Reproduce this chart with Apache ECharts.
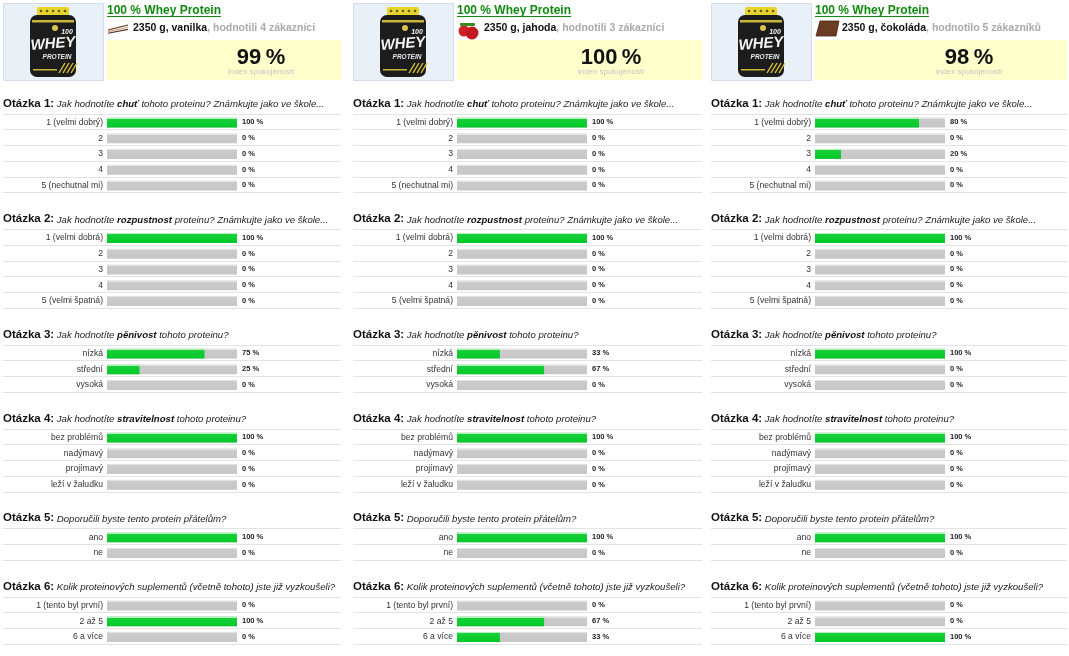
<!DOCTYPE html>
<html><head><meta charset="utf-8">
<script src="https://cdn.jsdelivr.net/npm/echarts@6/dist/echarts.min.js"></script>
<style>html,body{margin:0;padding:0;background:#fff}#c{width:1069px;height:656px}</style>
</head><body><div id="c"></div>
<script>
// ---------------- data ----------------
const productName = '100 % Whey Protein';
const packSize = '2350 g';
const flavors = ['vanilka', 'jahoda', 'čokoláda'];
const ratedBy = ['hodnotili 4 zákazníci', 'hodnotili 3 zákazníci', 'hodnotilo 5 zákazníků'];
const satisfaction = [99, 100, 98];
const satisfactionLabel = 'index spokojenosti';

const questionNumbers = ['Otázka 1:', 'Otázka 2:', 'Otázka 3:', 'Otázka 4:', 'Otázka 5:', 'Otázka 6:'];
const questionPre = ['Jak hodnotíte ', 'Jak hodnotíte ', 'Jak hodnotíte ', 'Jak hodnotíte ',
  'Doporučili byste tento protein přátelům?', 'Kolik proteinových suplementů (včetně tohoto) jste již vyzkoušeli?'];
const questionBold = ['chuť', 'rozpustnost', 'pěnivost', 'stravitelnost', '', ''];
const questionPost = [' tohoto proteinu? Známkujte jako ve škole...', ' proteinu? Známkujte jako ve škole...',
  ' tohoto proteinu?', ' tohoto proteinu?', '', ''];

const answersQ1 = ['1 (velmi dobrý)', '2', '3', '4', '5 (nechutnal mi)'];
const answersQ2 = ['1 (velmi dobrá)', '2', '3', '4', '5 (velmi špatná)'];
const answersQ3 = ['nízká', 'střední', 'vysoká'];
const answersQ4 = ['bez problémů', 'nadýmavý', 'projímavý', 'leží v žaludku'];
const answersQ5 = ['ano', 'ne'];
const answersQ6 = ['1 (tento byl první)', '2 až 5', '6 a více'];
const answers = [answersQ1, answersQ2, answersQ3, answersQ4, answersQ5, answersQ6];

const valuesVanilka  = [[100, 0, 0, 0, 0], [100, 0, 0, 0, 0], [75, 25, 0], [100, 0, 0, 0], [100, 0], [0, 100, 0]];
const valuesJahoda   = [[100, 0, 0, 0, 0], [100, 0, 0, 0, 0], [33, 67, 0], [100, 0, 0, 0], [100, 0], [0, 67, 33]];
const valuesCokolada = [[80, 0, 20, 0, 0], [100, 0, 0, 0, 0], [100, 0, 0], [100, 0, 0, 0], [100, 0], [0, 0, 100]];
const allValues = [valuesVanilka, valuesJahoda, valuesCokolada];

// ---------------- layout ----------------
const FONT = '"Liberation Sans", Arial, sans-serif';
const columns = [{ left: 3, right: 341 }, { left: 353, right: 702 }, { left: 711, right: 1067 }];
const ROW_H = 15.75, BLOCK_GAP = 36.75, FIRST_TOP = 114.5, BAR_W = 130;

const measure = (() => {
  const cv = document.createElement('canvas').getContext('2d');
  return (txt, font) => { cv.font = font; return cv.measureText(txt).width; };
})();

const green = new echarts.graphic.LinearGradient(0, 0, 0, 1, [
  { offset: 0, color: '#b4f0bc' }, { offset: 0.14, color: '#b4f0bc' },
  { offset: 0.15, color: '#19d03a' }, { offset: 1, color: '#00c828' }]);
const gray = new echarts.graphic.LinearGradient(0, 0, 0, 1, [
  { offset: 0, color: '#e2e2e2' }, { offset: 0.14, color: '#e2e2e2' },
  { offset: 0.15, color: '#cbcbcb' }, { offset: 1, color: '#c6c6c6' }]);

const grids = [], xAxes = [], yAxes = [], series = [], graphics = [];

function jar(bx, by) {
  const g = [];
  g.push({ type: 'rect', shape: { x: bx + 0.5, y: by + 0.5, width: 100, height: 77 },
    style: { fill: '#e9f0f8', stroke: '#d3deea', lineWidth: 1 } });
  g.push({ type: 'rect', shape: { x: bx + 34, y: by + 4, width: 32, height: 9, r: 2 }, style: { fill: '#e6d52a' } });
  for (let i = 0; i < 5; i++) g.push({ type: 'circle', shape: { cx: bx + 38 + i * 6, cy: by + 8, r: 1.3 }, style: { fill: '#6a5a10' } });
  g.push({ type: 'rect', shape: { x: bx + 27, y: by + 12, width: 46, height: 62, r: 7 }, style: { fill: '#1c1c1c' } });
  g.push({ type: 'rect', shape: { x: bx + 29, y: by + 17, width: 42, height: 2.5 }, style: { fill: '#c9b73a' } });
  g.push({ type: 'circle', shape: { cx: bx + 52, cy: by + 25, r: 3 }, style: { fill: '#d8c44a' } });
  g.push({ type: 'text', x: bx + 50, y: by + 41, rotation: 0.08,
    style: { text: 'WHEY', font: 'italic bold 15px ' + FONT, fill: '#f4f4f4', align: 'center', verticalAlign: 'middle' } });
  g.push({ type: 'text', x: bx + 64, y: by + 29,
    style: { text: '100', font: 'italic bold 7px ' + FONT, fill: '#f4f4f4', align: 'center', verticalAlign: 'middle' } });
  g.push({ type: 'text', x: bx + 54, y: by + 54,
    style: { text: 'PROTEIN', font: 'italic bold 6.5px ' + FONT, fill: '#e8e8e8', align: 'center', verticalAlign: 'middle' } });
  for (let i = 0; i < 4; i++) g.push({ type: 'line', shape: { x1: bx + 56 + i * 4, y1: by + 70, x2: bx + 62 + i * 4, y2: by + 60 },
    style: { stroke: '#d6c23a', lineWidth: 1.4 } });
  g.push({ type: 'rect', shape: { x: bx + 30, y: by + 66, width: 24, height: 1.5 }, style: { fill: '#c9b73a' } });
  return g;
}

function flavorIcon(ci, x, y) {
  if (ci === 0) {
    return [0, 1, 2].map(i => ({ type: 'line', shape: { x1: x, y1: y + 6 + i * 1.6, x2: x + 20, y2: y + 1 + i * 2.2 },
      style: { stroke: i === 1 ? '#c8a080' : '#5a3020', lineWidth: 1.1 } }));
  }
  if (ci === 1) {
    return [
      { type: 'circle', shape: { cx: x + 6, cy: y + 7, r: 5.5 }, style: { fill: '#d0202a' } },
      { type: 'circle', shape: { cx: x + 14, cy: y + 9, r: 6.5 }, style: { fill: '#c41820' } },
      { type: 'rect', shape: { x: x + 2, y: y - 1, width: 15, height: 3, r: 1 }, style: { fill: '#3a8a20' } }
    ];
  }
  return [{ type: 'polygon', shape: { points: [[x + 4, y - 3], [x + 23, y - 3], [x + 20, y + 12], [x, y + 12]] },
    style: { fill: '#6b3b22', stroke: '#4a2414', lineWidth: 0.8 } }];
}

columns.forEach((col, ci) => {
  const boxX = col.left, barX = col.left + 104;
  graphics.push(...jar(boxX, 3));
  graphics.push({ type: 'rect', shape: { x: barX, y: 40, width: col.right - barX, height: 40 }, style: { fill: '#ffffcc' } });
  graphics.push({ type: 'text', x: barX + 154, y: 57.5,
    style: { text: satisfaction[ci] + '\u2009%', font: 'bold 22px ' + FONT, fill: '#111', align: 'center', verticalAlign: 'middle' } });
  graphics.push({ type: 'text', x: barX + 154, y: 71.5,
    style: { text: satisfactionLabel, font: '8px ' + FONT, fill: '#c4c4c4', align: 'center', verticalAlign: 'middle' } });
  const tFont = 'bold 12px ' + FONT;
  graphics.push({ type: 'text', x: barX, y: 10.5,
    style: { text: productName, font: tFont, fill: '#118a11', verticalAlign: 'middle' } });
  graphics.push({ type: 'line', shape: { x1: barX, y1: 16.5, x2: barX + measure(productName, tFont), y2: 16.5 },
    style: { stroke: '#118a11', lineWidth: 1 } });
  graphics.push(...flavorIcon(ci, barX + 1, 24));
  graphics.push({ type: 'text', x: barX + (ci === 0 ? 26 : 27), y: 28,
    style: { text: '{k|' + packSize + ', ' + flavors[ci] + '}{g|, ' + ratedBy[ci] + '}',
      verticalAlign: 'middle',
      rich: { k: { font: 'bold 10.5px ' + FONT, fill: '#111' }, g: { font: 'bold 10.5px ' + FONT, fill: '#aaaaaa' } } } });

  let top = FIRST_TOP;
  answers.forEach((cats, qi) => {
    const vals = allValues[ci][qi];
    const gi = grids.length;
    let txt = '{q|' + questionNumbers[qi] + '}{i| ' + questionPre[qi] + '}';
    if (questionBold[qi]) txt += '{b|' + questionBold[qi] + '}{i|' + questionPost[qi] + '}';
    graphics.push({ type: 'text', x: col.left, y: top - 11,
      style: { text: txt, verticalAlign: 'middle',
        rich: { q: { font: 'bold 11.5px ' + FONT, fill: '#111', verticalAlign: 'bottom' },
                i: { font: 'italic 9.6px ' + FONT, fill: '#222', verticalAlign: 'bottom' },
                b: { font: 'italic bold 9.6px ' + FONT, fill: '#111', verticalAlign: 'bottom' } } } });
    for (let r = 0; r <= cats.length; r++) {
      const yy = Math.round(top + r * ROW_H) - 0.5;
      graphics.push({ type: 'line', z: -1, shape: { x1: col.left, y1: yy, x2: col.right, y2: yy },
        style: { stroke: '#e3e3e3', lineWidth: 1 } });
    }
    grids.push({ left: barX, top: top, width: BAR_W, height: cats.length * ROW_H,
      containLabel: false, outerBoundsMode: 'none' });
    xAxes.push({ type: 'value', gridIndex: gi, min: 0, max: 100, show: false });
    yAxes.push({ type: 'category', gridIndex: gi, inverse: true, data: cats,
      axisLine: { show: false }, axisTick: { show: false }, splitLine: { show: false },
      axisLabel: { margin: 4, fontSize: 8.6, color: '#333', fontFamily: FONT } });
    yAxes.push({ type: 'category', gridIndex: gi, inverse: true, position: 'right', data: cats,
      axisLine: { show: false }, axisTick: { show: false }, splitLine: { show: false },
      axisLabel: { margin: 5, fontSize: 7.5, fontWeight: 'bold', color: '#222', fontFamily: FONT,
        formatter: (v, idx) => vals[idx] + ' %' } });
    series.push({ type: 'bar', xAxisIndex: gi, yAxisIndex: gi * 2, data: vals, barWidth: 10,
      showBackground: true, backgroundStyle: { color: gray }, itemStyle: { color: green }, silent: true });
    top += cats.length * ROW_H + BLOCK_GAP;
  });
});

const chart = echarts.init(document.getElementById('c'), null, { renderer: 'canvas' });
chart.setOption({
  animation: false,
  backgroundColor: '#fff',
  grid: grids, xAxis: xAxes, yAxis: yAxes, series: series,
  graphic: graphics
});
</script></body></html>
